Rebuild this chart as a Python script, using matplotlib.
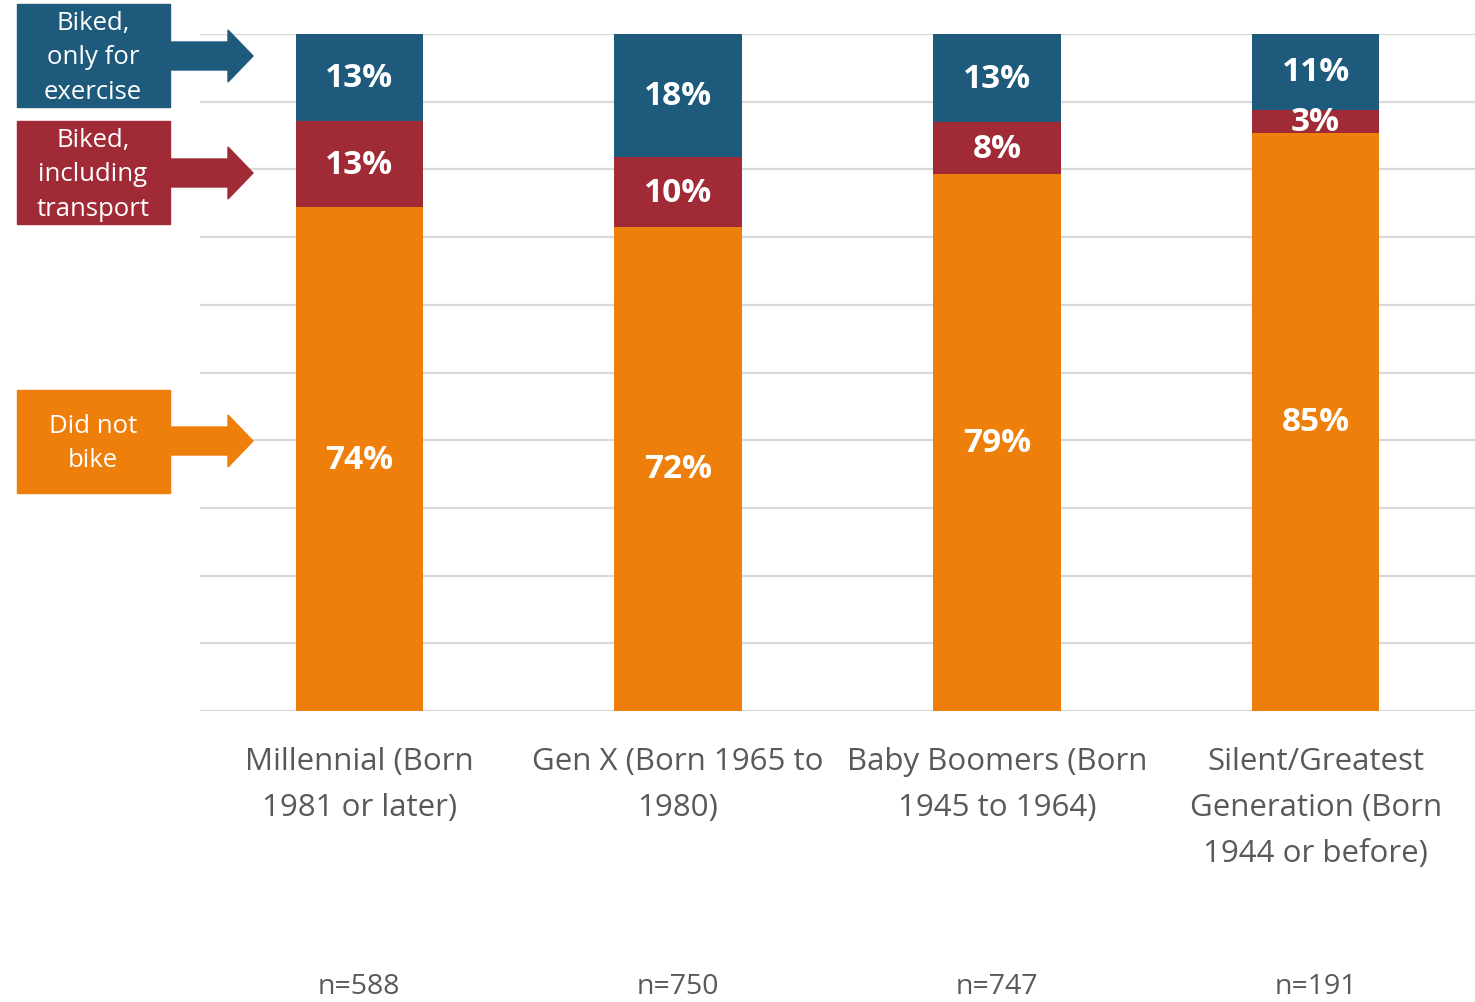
import matplotlib
matplotlib.use("Agg")
import matplotlib.pyplot as plt
import matplotlib.transforms as mtransforms
from matplotlib.patches import Rectangle, Polygon
import numpy as np

plt.rcParams['font.family'] = ['Open Sans', 'DejaVu Sans']

categories = ["Millennial (Born\n1981 or later)",
              "Gen X (Born 1965 to\n1980)",
              "Baby Boomers (Born\n1945 to 1964)",
              "Silent/Greatest\nGeneration (Born\n1944 or before)"]
n_labels = ["n=588", "n=750", "n=747", "n=191"]
did_not_bike = [74.4, 71.5, 79.3, 85.4]
biked_transport = [12.7, 10.3, 7.7, 3.4]
biked_exercise = [12.9, 18.2, 13.0, 11.2]
series_names = ["Did not\nbike", "Biked,\nincluding\ntransport", "Biked,\nonly for\nexercise"]

c_orange = "#EF7F0B"
c_red = "#A12A37"
c_blue = "#1E5A7C"
gray_text = "#595959"

W, H = 1475, 1003
fig = plt.figure(figsize=(W / 100, H / 100), dpi=100)
ax = fig.add_axes([200 / W, 1 - 712 / H, 1 - 200 / W, (712 - 35) / H])

x = np.arange(len(categories))
width = 0.4
b1 = ax.bar(x, did_not_bike, width, color=c_orange, zorder=3)
b2 = ax.bar(x, biked_transport, width, bottom=did_not_bike, color=c_red, zorder=3)
bottom3 = np.array(did_not_bike) + np.array(biked_transport)
b3 = ax.bar(x, biked_exercise, width, bottom=bottom3, color=c_blue, zorder=3)

for bars in (b1, b2, b3):
    for r in bars:
        h = r.get_height()
        ax.text(r.get_x() + r.get_width() / 2, r.get_y() + h / 2, f"{round(h):d}%",
                ha='center', va='center', color='white', fontsize=24,
                fontweight='bold', zorder=5)

ax.set_xlim(-0.5, 3.5)
ax.set_ylim(0, 100)
ax.set_yticks(np.arange(0, 101, 10))
ax.yaxis.grid(True, color="#D9D9D9", linewidth=1.6, zorder=0)
ax.set_axisbelow(True)
ax.tick_params(axis='y', length=0, labelleft=False)
ax.tick_params(axis='x', length=0, pad=25)
ax.set_xticks(x)
ax.set_xticklabels(categories, fontsize=22.5, color=gray_text, linespacing=1.7)
for s in ax.spines.values():
    s.set_visible(False)

ntrans = mtransforms.blended_transform_factory(ax.transData, fig.transFigure)
for i, lab in enumerate(n_labels):
    ax.text(x[i], 1 - 987 / H, lab, transform=ntrans,
            ha='center', va='center', fontsize=20.5, color=gray_text)

# legend boxes with arrows, overlay axes in pixel coords
ov = fig.add_axes([0, 0, 1, 1], zorder=10)
ov.set_xlim(0, W)
ov.set_ylim(H, 0)
ov.axis('off')

legend_items = [(c_blue, series_names[2], 5, 108, 57),
                (c_red, series_names[1], 122, 225, 174),
                (c_orange, series_names[0], 391, 494, 442)]
for col, txt, y0, y1, ya in legend_items:
    ov.add_patch(Rectangle((17, y0), 153, y1 - y0, color=col))
    arrow = Polygon([(168, ya - 14), (228, ya - 14), (228, ya - 26), (253, ya),
                     (228, ya + 26), (228, ya + 14), (168, ya + 14)], closed=True, color=col)
    ov.add_patch(arrow)
    ov.text(93, (y0 + y1) / 2 + 1, txt, ha='center', va='center', color='white',
            fontsize=18.5, linespacing=1.5)

fig.savefig("out.png", dpi=100)
